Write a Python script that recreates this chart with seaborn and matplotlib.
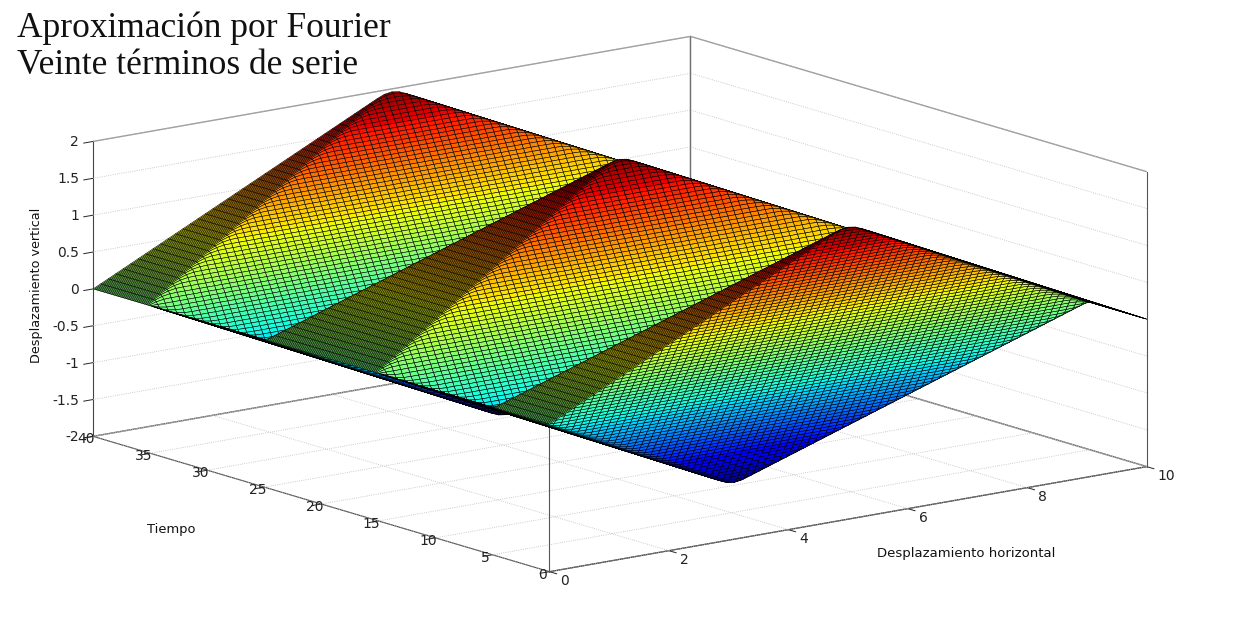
import numpy as np
import matplotlib
matplotlib.use("Agg")
import matplotlib.pyplot as plt
from matplotlib.transforms import ScaledTranslation
import seaborn as sns

# Ejes
x_half = [i * 0.125 for i in range(41)]  # 0 .. 5, la otra mitad es espejo
t_ticks = [0, 5, 10, 15, 20, 25, 30, 35, 40]
x_ticks = [0, 2, 4, 6, 8, 10]
z_ticks = [-2, -1.5, -1, -0.5, 0, 0.5, 1, 1.5, 2]

# Rampa de la cuerda, columnas x = 0 .. 5
R = [0, .05, .10, .15, .20, .25, .30, .35, .40, .45, .50, .55, .60, .65, .70, .75, .80, .85, .90, .95,
     1.00, 1.05, 1.10, 1.15, 1.20, 1.25, 1.30, 1.35, 1.40, 1.45, 1.50, 1.55, 1.60, 1.65, 1.70, 1.75, 1.80]

# Filas t = 0, 0.125 .. 5: rampa, esquina redondeada y meseta
perfil = [
    R[:36] + [1.80, 1.85, 1.90, 1.944, 1.96],
    R[:36] + [1.80, 1.85, 1.897, 1.93, 1.944],
    R[:36] + [1.80, 1.847, 1.88, 1.897, 1.90],
    R[:35] + [1.75, 1.797, 1.83, 1.847, 1.85, 1.85],
    R[:35] + [1.747, 1.78, 1.797] + [1.80] * 3,
    R[:34] + [1.697, 1.73, 1.747] + [1.75] * 4,
    R[:33] + [1.647, 1.68, 1.697] + [1.70] * 5,
    R[:32] + [1.597, 1.63, 1.647] + [1.65] * 6,
    R[:31] + [1.547, 1.58, 1.597] + [1.60] * 7,
    R[:30] + [1.497, 1.53, 1.547] + [1.55] * 8,
    R[:29] + [1.447, 1.48, 1.497] + [1.50] * 9,
    R[:28] + [1.397, 1.43, 1.447] + [1.45] * 10,
    R[:27] + [1.347, 1.38, 1.397] + [1.40] * 11,
    R[:26] + [1.297, 1.33, 1.347] + [1.35] * 12,
    R[:25] + [1.247, 1.28, 1.297] + [1.30] * 13,
    R[:24] + [1.197, 1.23, 1.247] + [1.25] * 14,
    R[:23] + [1.147, 1.18, 1.197] + [1.20] * 15,
    R[:22] + [1.097, 1.13, 1.147] + [1.15] * 16,
    R[:21] + [1.047, 1.08, 1.097] + [1.10] * 17,
    R[:20] + [.997, 1.03, 1.047] + [1.05] * 18,
    R[:19] + [.947, .98, .997] + [1.00] * 19,
    R[:18] + [.897, .93, .947] + [.95] * 20,
    R[:17] + [.847, .88, .897] + [.90] * 21,
    R[:16] + [.797, .83, .847] + [.85] * 22,
    R[:15] + [.747, .78, .797] + [.80] * 23,
    R[:14] + [.697, .73, .747] + [.75] * 24,
    R[:13] + [.647, .68, .697] + [.70] * 25,
    R[:12] + [.597, .63, .647] + [.65] * 26,
    R[:11] + [.547, .58, .597] + [.60] * 27,
    R[:10] + [.497, .53, .547] + [.55] * 28,
    R[:9] + [.447, .48, .497] + [.50] * 29,
    R[:8] + [.397, .43, .447] + [.45] * 30,
    R[:7] + [.347, .38, .397] + [.40] * 31,
    R[:6] + [.297, .33, .347] + [.35] * 32,
    R[:5] + [.247, .28, .297] + [.30] * 33,
    R[:4] + [.197, .23, .247] + [.25] * 34,
    R[:3] + [.147, .18, .197] + [.20] * 35,
    R[:2] + [.097, .13, .147] + [.15] * 36,
    R[:1] + [.047, .08, .097] + [.10] * 37,
    [0, .03, .047] + [.05] * 38,
    [0] * 41,
]

sns.set_theme(style="white")
plt.rcParams["axes.unicode_minus"] = False
plt.rcParams["font.family"] = ["DejaVu Sans"]

# La onda se repite: de t=5 a 10 invertida, de 10 a 20 espejo, de 20 a 40 igual
cuarto = np.array(perfil)
media = np.vstack([cuarto, -cuarto[-2::-1]])
periodo = np.vstack([media, media[-2::-1]])
Z = np.vstack([periodo, periodo[1:]])
Z = np.hstack([Z, Z[:, -2::-1]])
x = np.concatenate([x_half, 10 - np.array(x_half[-2::-1])])
t = np.arange(Z.shape[0]) * 0.125
X, T = np.meshgrid(x, t)

fig = plt.figure(figsize=(12.37, 6.23), dpi=100)
ax = fig.add_subplot(111, projection="3d", proj_type="ortho")
# Cuadro mayor que la figura para que la caja no se recorte a la derecha
ax.set_position([-47.6 / 1237, -348.6 / 623, 1300 / 1237, 1300 / 623])
ax.set_box_aspect((754, 748, 303), zoom=1072 / 1300)
ax.view_init(elev=13.2, azim=-127.6)
ax.computed_zorder = False
ax.grid(False)

# Rejilla: suelo completo y solo lineas horizontales en las paredes
rejilla = dict(color="#bbbbbb", lw=0.6, ls=":", zorder=0)
for v in x_ticks:
    ax.plot([v, v], [0, 40], [-2, -2], **rejilla)
for v in t_ticks:
    ax.plot([0, 10], [v, v], [-2, -2], **rejilla)
for v in z_ticks:
    ax.plot([0, 10], [40, 40], [v, v], **rejilla)
    ax.plot([10, 10], [0, 40], [v, v], **rejilla)

# Aristas de la caja que no dibuja el eje
ax.plot([0, 0], [0, 0], [-2, 0], color="#555555", lw=0.8, zorder=0)
ax.plot([10, 10], [0, 0], [-2, 2], color="#555555", lw=0.8, zorder=0)

ax.plot_surface(X, T, Z, rstride=1, cstride=1, cmap="jet", vmin=-2, vmax=2,
                edgecolor="#000000", linewidth=0.4, shade=False, antialiased=True, zorder=1)

ax.set_xlim(0, 10, view_margin=0)
ax.set_ylim(0, 40, view_margin=0)
ax.set_zlim(-2, 2, view_margin=0)
ax.set_xticks(x_ticks)
ax.set_yticks(t_ticks)
ax.set_zticks(z_ticks)

for eje in (ax.xaxis, ax.yaxis, ax.zaxis):
    eje.set_tick_params(labelbottom=False)
    eje.pane.set_facecolor((1, 1, 1, 0))
    eje.pane.set_edgecolor("#333333")
    eje.pane.set_linewidth(1.0)
    eje.line.set_color("#444444")
    eje.line.set_linewidth(0.8)
    eje._axinfo["tick"].update(color="#555555", inward_factor=0.2, outward_factor=0.0)
    eje._axinfo["tick"]["linewidth"] = {True: 0.7, False: 0.5}


# Etiquetas de los ejes, desplazadas en pixeles desde cada marca
def corrido(dx, dy):
    return ax.transData + ScaledTranslation(dx / 100, -dy / 100, fig.dpi_scale_trans)


for v in x_ticks:
    ax.text(v, 0, -2, "%g" % v, fontsize=10, color="#222222", ha="left", va="center", transform=corrido(11, 9))
for v in t_ticks:
    ax.text(0, v, -2, "%g" % v, fontsize=10, color="#222222", ha="center", va="center", transform=corrido(-7, 3))
for v in z_ticks:
    ax.text(0, 40, v, "%g" % v, fontsize=10, color="#222222", ha="right", va="center", transform=corrido(-14, 1))

fig.text(17 / 1237, 1 - 37 / 623, "Aproximación por Fourier", family="Liberation Serif",
         fontsize=25.5, color="#111111", va="baseline")
fig.text(17 / 1237, 1 - 74 / 623, "Veinte términos de serie", family="Liberation Serif",
         fontsize=25.5, color="#111111", va="baseline")
fig.text(966 / 1237, 1 - 554 / 623, "Desplazamiento horizontal", fontsize=9.5, color="#111111", ha="center", va="center")
fig.text(171 / 1237, 1 - 530 / 623, "Tiempo", fontsize=9.4, color="#111111", ha="center", va="center")
fig.text(37 / 1237, 1 - 285 / 623, "Desplazamiento vertical", fontsize=9.2, color="#111111", rotation=90, ha="center", va="center")

fig.savefig("out.png", dpi=100)
